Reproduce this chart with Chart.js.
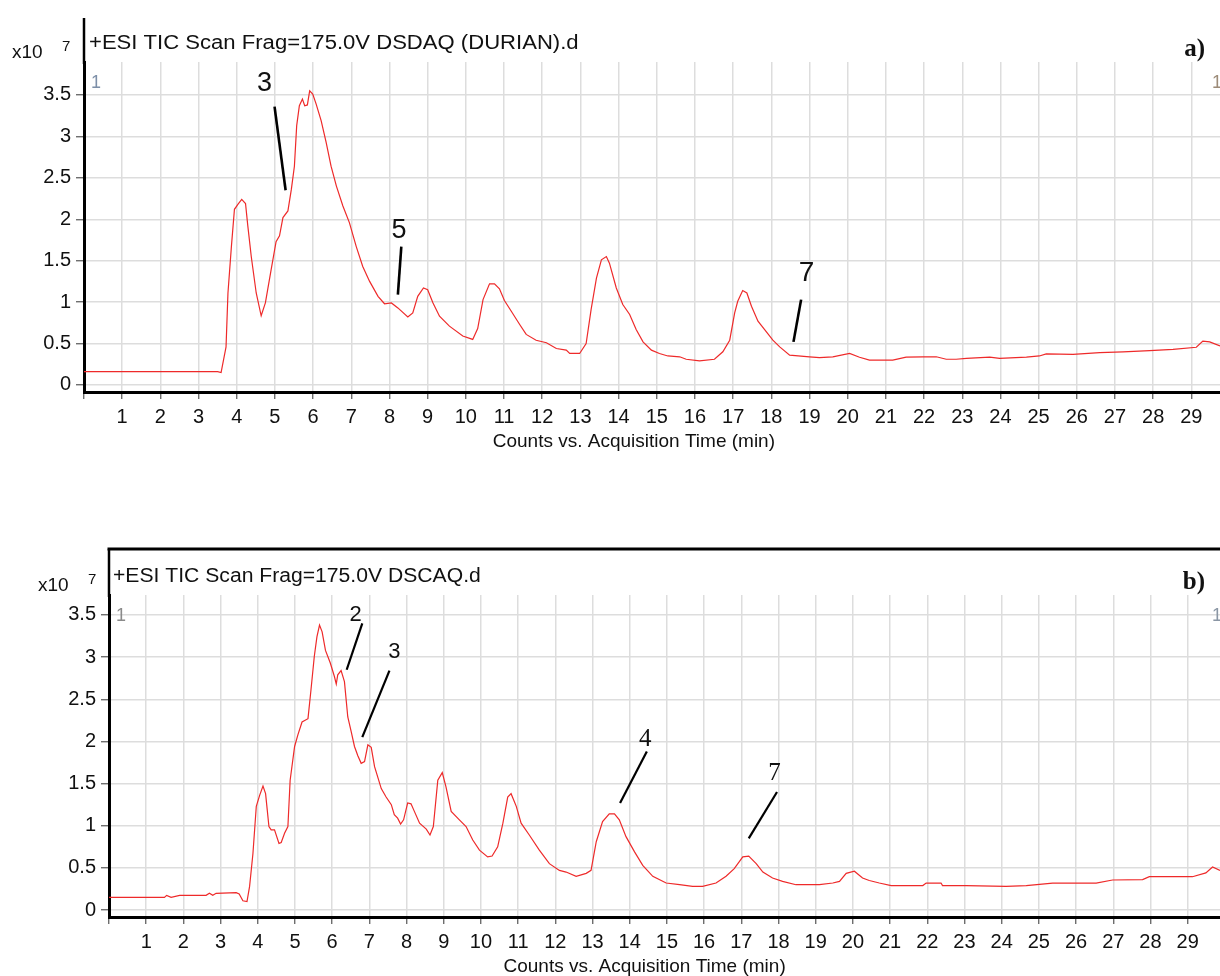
<!DOCTYPE html>
<html><head><meta charset="utf-8">
<script src="https://cdn.jsdelivr.net/npm/chart.js@4.4.0/dist/chart.umd.min.js"></script>
<style>
html,body{margin:0;padding:0;background:#fff;}
#wrap{position:relative;width:1220px;height:976px;overflow:hidden;background:#fff;}
canvas{position:absolute;left:0;}
#ca{top:0;}
#cb{top:488px;}
</style></head><body>
<div id="wrap"><canvas id="ca" width="1220" height="488"></canvas><canvas id="cb" width="1220" height="488"></canvas></div>
<script>
// ---- Panel a: DSDAQ (DURIAN) TIC, time (min) and counts (x10^7)
const aTime = [0,3.50,3.59,3.72,3.77,3.86,3.94,4.03,4.13,4.23,4.29,4.38,4.51,4.64,4.75,4.90,5.03,5.12,5.21,5.34,5.43,5.51,5.57,5.64,5.72,5.78,5.85,5.91,5.99,6.08,6.21,6.34,6.47,6.61,6.78,6.95,7.13,7.30,7.48,7.70,7.87,8.05,8.22,8.48,8.61,8.74,8.89,9.00,9.14,9.31,9.57,9.92,10.18,10.31,10.45,10.62,10.75,10.88,11.01,11.19,11.41,11.58,11.84,12.11,12.37,12.63,12.72,12.98,13.15,13.28,13.42,13.55,13.68,13.76,13.94,14.11,14.29,14.46,14.64,14.86,15.07,15.29,15.60,15.77,16.12,16.51,16.73,16.91,17.04,17.12,17.25,17.36,17.48,17.65,17.82,18.04,18.22,18.48,19.00,19.26,19.61,20.05,20.31,20.57,21.18,21.53,21.97,22.32,22.58,22.84,23.11,23.72,23.98,24.68,25.02,25.20,25.90,26.60,27.21,27.91,28.52,29.13,29.30,29.48,29.75];
const aCounts = [0.16,0.16,0.15,0.46,1.11,1.67,2.12,2.18,2.24,2.19,1.92,1.55,1.11,0.835,0.99,1.39,1.73,1.80,2.02,2.10,2.36,2.64,3.13,3.37,3.45,3.37,3.38,3.55,3.51,3.39,3.19,2.93,2.64,2.40,2.16,1.96,1.67,1.43,1.25,1.07,0.98,0.99,0.93,0.82,0.87,1.07,1.17,1.15,0.99,0.83,0.71,0.59,0.55,0.68,1.03,1.22,1.22,1.16,1.02,0.89,0.73,0.61,0.54,0.51,0.44,0.42,0.38,0.38,0.50,0.91,1.29,1.51,1.55,1.47,1.17,0.97,0.85,0.67,0.52,0.42,0.38,0.35,0.34,0.31,0.29,0.31,0.40,0.54,0.87,1.01,1.14,1.11,0.95,0.77,0.67,0.54,0.46,0.36,0.34,0.33,0.34,0.38,0.335,0.30,0.30,0.335,0.34,0.34,0.31,0.31,0.32,0.335,0.32,0.335,0.35,0.375,0.37,0.39,0.40,0.415,0.43,0.455,0.53,0.52,0.47];

// ---- Panel b: DSCAQ TIC
const bTime = [0,1.49,1.55,1.67,1.90,2.61,2.70,2.79,2.88,3.42,3.50,3.60,3.71,3.78,3.87,3.96,4.05,4.14,4.21,4.30,4.36,4.45,4.57,4.63,4.72,4.81,4.87,4.99,5.08,5.19,5.35,5.43,5.52,5.59,5.66,5.73,5.82,5.95,6.06,6.11,6.15,6.24,6.33,6.42,6.51,6.60,6.69,6.78,6.87,6.96,7.05,7.14,7.32,7.45,7.59,7.67,7.76,7.84,7.92,8.03,8.12,8.21,8.35,8.53,8.63,8.72,8.84,8.96,9.06,9.20,9.42,9.60,9.78,9.96,10.18,10.30,10.45,10.59,10.72,10.81,10.95,11.08,11.30,11.57,11.84,12.11,12.29,12.56,12.83,12.96,13.10,13.27,13.45,13.59,13.72,13.90,14.13,14.35,14.62,14.98,15.34,15.69,15.96,16.32,16.59,16.81,17.04,17.20,17.40,17.58,17.84,18.11,18.47,19.10,19.46,19.64,19.82,20.04,20.26,20.44,20.71,21.03,21.88,21.97,22.37,22.41,23.04,24.12,24.66,25.37,26.54,26.98,27.79,27.97,29.13,29.49,29.67,29.87];
const bCounts = [0.15,0.15,0.174,0.15,0.174,0.174,0.198,0.174,0.198,0.205,0.19,0.11,0.10,0.28,0.67,1.23,1.36,1.47,1.38,0.99,0.95,0.95,0.79,0.80,0.91,0.99,1.54,1.94,2.08,2.23,2.27,2.61,3.01,3.24,3.38,3.30,3.08,2.93,2.77,2.68,2.79,2.84,2.71,2.29,2.12,1.94,1.83,1.74,1.76,1.96,1.93,1.70,1.44,1.34,1.25,1.13,1.09,1.02,1.07,1.27,1.26,1.17,1.03,0.96,0.89,0.99,1.54,1.63,1.46,1.17,1.07,0.99,0.83,0.71,0.63,0.64,0.75,1.03,1.34,1.38,1.23,1.03,0.89,0.71,0.55,0.47,0.45,0.40,0.435,0.47,0.81,1.05,1.14,1.14,1.07,0.87,0.69,0.53,0.40,0.32,0.30,0.28,0.28,0.32,0.40,0.49,0.63,0.64,0.55,0.45,0.38,0.34,0.30,0.30,0.32,0.34,0.435,0.46,0.38,0.35,0.32,0.29,0.29,0.32,0.32,0.29,0.29,0.28,0.29,0.32,0.32,0.356,0.36,0.395,0.395,0.44,0.51,0.47];

// ---- Tick labels
const xTickLabels = ['1','2','3','4','5','6','7','8','9','10','11','12','13','14','15','16','17','18','19','20','21','22','23','24','25','26','27','28','29'];
const yTickLabels = ['0','0.5','1','1.5','2','2.5','3','3.5'];

// ---- Peak annotations (data coordinates: label point, leader line start/end)
const aPeakNames = ['3','5','7'];
const aPeakLabelX = [4.73, 8.25, 18.92];
const aPeakLabelY = [3.64, 1.86, 1.35];
const aLeaderX1 = [4.99, 8.31, 18.78];
const aLeaderY1 = [3.36, 1.67, 1.03];
const aLeaderX2 = [5.28, 8.22, 18.58];
const aLeaderY2 = [2.35, 1.09, 0.52];

const bPeakNames = ['2','3','4','7'];
const bPeakLabelX = [6.63, 7.67, 14.42, 17.89];
const bPeakLabelY = [3.50, 3.06, 2.02, 1.62];
const bLeaderX1 = [6.81, 7.54, 14.46, 17.96];
const bLeaderY1 = [3.40, 2.84, 1.88, 1.40];
const bLeaderX2 = [6.39, 6.81, 13.74, 17.20];
const bLeaderY2 = [2.85, 2.05, 1.27, 0.85];

const titleA = '+ESI TIC Scan Frag=175.0V DSDAQ (DURIAN).d';
const titleB = '+ESI TIC Scan Frag=175.0V DSCAQ.d';
const xTitle = 'Counts vs. Acquisition Time (min)';

const SANS = '"Liberation Sans", Arial, Helvetica, sans-serif';
const SERIF = '"Liberation Serif", "Times New Roman", serif';

function makeChart(id, time, counts, o) {
  const data = time.map((t, i) => ({x: t, y: counts[i]}));
  const decor = {
    id: 'decor',
    afterDraw(chart) {
      const ctx = chart.ctx, xs = chart.scales.x, ys = chart.scales.y, ca = chart.chartArea;
      ctx.save();
      // frame extension
      ctx.strokeStyle = '#000';
      ctx.lineWidth = 2.5;
      ctx.beginPath();
      ctx.moveTo(ca.left, o.frameTop);
      ctx.lineTo(ca.left, ca.top + 2);
      ctx.stroke();
      if (o.boxTop) {
        ctx.lineWidth = 3;
        ctx.beginPath();
        ctx.moveTo(ca.left - 1.5, o.frameTop);
        ctx.lineTo(chart.width, o.frameTop);
        ctx.stroke();
      }
      // header
      ctx.fillStyle = '#111';
      ctx.textAlign = 'left';
      ctx.textBaseline = 'alphabetic';
      ctx.font = '20px ' + SANS;
      ctx.save();
      ctx.translate(o.headX, o.headY);
      ctx.scale(o.headScale, 1);
      ctx.fillText(o.header, 0, 0);
      ctx.restore();
      ctx.font = '19px ' + SANS;
      ctx.fillText('x10', o.expX, o.expY);
      ctx.font = '15px ' + SANS;
      ctx.fillText('7', o.expX + 50, o.expY - 7);
      ctx.font = 'bold 25px ' + SERIF;
      ctx.textAlign = 'right';
      ctx.fillText(o.panel, 1205, o.panelY);
      // small gray markers
      ctx.textAlign = 'left';
      ctx.font = '18px ' + SANS;
      ctx.fillStyle = o.oneLeftColor;
      ctx.fillText('1', ca.left + 7, ca.top + 26);
      ctx.fillStyle = o.oneRightColor;
      ctx.fillText('1', 1212, ca.top + 26);
      // x axis title
      ctx.fillStyle = '#111';
      ctx.textAlign = 'center';
      ctx.textBaseline = 'middle';
      ctx.font = '19px ' + SANS;
      ctx.fillText(xTitle, xs.getPixelForValue(14.4), o.xTitleY);
      // peak annotations
      ctx.strokeStyle = '#000';
      ctx.lineWidth = o.leaderWidth;
      for (let i = 0; i < o.names.length; i++) {
        ctx.beginPath();
        ctx.moveTo(xs.getPixelForValue(o.lx1[i]), ys.getPixelForValue(o.ly1[i]));
        ctx.lineTo(xs.getPixelForValue(o.lx2[i]), ys.getPixelForValue(o.ly2[i]));
        ctx.stroke();
        ctx.font = o.peakFonts[i];
        ctx.fillStyle = '#111';
        ctx.fillText(o.names[i], xs.getPixelForValue(o.px[i]), ys.getPixelForValue(o.py[i]));
      }
      ctx.restore();
    }
  };
  return new Chart(document.getElementById(id), {
    type: 'line',
    data: {datasets: [{data, borderColor: '#ee2a2a', borderWidth: 1.2, pointRadius: 0, tension: 0, fill: false}]},
    options: {
      responsive: false, animation: false, devicePixelRatio: 1,
      events: [],
      layout: {padding: {top: o.top, left: 0, right: 0, bottom: 0}},
      plugins: {legend: {display: false}, tooltip: {enabled: false}, title: {display: false}},
      scales: {
        x: {
          type: 'linear', min: 0, max: o.xMax,
          afterFit(s) { s.height = o.xAxisH; s.paddingLeft = 0; s.paddingRight = 0; },
          grid: {color: '#dddddd', lineWidth: 1.5, tickColor: '#555', tickWidth: 1.2, tickLength: 7},
          border: {display: true, color: '#000', width: 3},
          ticks: {stepSize: 1, includeBounds: false, autoSkip: false, maxRotation: 0, padding: 6,
                  color: '#111', font: {family: SANS, size: 20},
                  callback: (v) => xTickLabels[Math.round(v) - 1] || ''}
        },
        y: {
          type: 'linear', min: o.yMin, max: o.yMax,
          afterFit(s) { s.width = o.yAxisW; s.paddingTop = 0; s.paddingBottom = 0; },
          grid: {color: '#dddddd', lineWidth: 1.5, tickColor: '#555', tickWidth: 1.2, tickLength: 8},
          border: {display: true, color: '#000', width: 3},
          ticks: {stepSize: 0.5, includeBounds: false, padding: 5, color: '#111',
                  font: {family: SANS, size: 20},
                  callback: (v) => { const k = Math.round(v * 2); return (k >= 0 && k < yTickLabels.length) ? yTickLabels[k] : ''; }}
        }
      }
    },
    plugins: [decor]
  });
}

makeChart('ca', aTime, aCounts, {
  top: 62, xAxisH: 96, yAxisW: 84, xMax: 29.75, yMin: -0.085, yMax: 3.898,
  frameTop: 18, boxTop: false, header: titleA, headX: 89, headY: 49, headScale: 1.104,
  expX: 12, expY: 58, panel: 'a)', panelY: 56, xTitleY: 442,
  oneLeftColor: '#7d8fa8', oneRightColor: '#9c8b78',
  leaderWidth: 2.6,
  names: aPeakNames, px: aPeakLabelX, py: aPeakLabelY, lx1: aLeaderX1, ly1: aLeaderY1, lx2: aLeaderX2, ly2: aLeaderY2,
  peakFonts: ['27px ' + SANS, '27px ' + SANS, '28px ' + SANS]
});

makeChart('cb', bTime, bCounts, {
  top: 107, xAxisH: 59, yAxisW: 109, xMax: 29.87, yMin: -0.083, yMax: 3.737,
  frameTop: 61, boxTop: true, header: titleB, headX: 113, headY: 94, headScale: 1.057,
  expX: 38, expY: 103, panel: 'b)', panelY: 101, xTitleY: 479,
  oneLeftColor: '#8a8a8a', oneRightColor: '#8a96a4',
  leaderWidth: 2.2,
  names: bPeakNames, px: bPeakLabelX, py: bPeakLabelY, lx1: bLeaderX1, ly1: bLeaderY1, lx2: bLeaderX2, ly2: bLeaderY2,
  peakFonts: ['22px ' + SANS, '22px ' + SANS, '25px ' + SERIF, '25px ' + SERIF]
});
</script>
</body></html>
